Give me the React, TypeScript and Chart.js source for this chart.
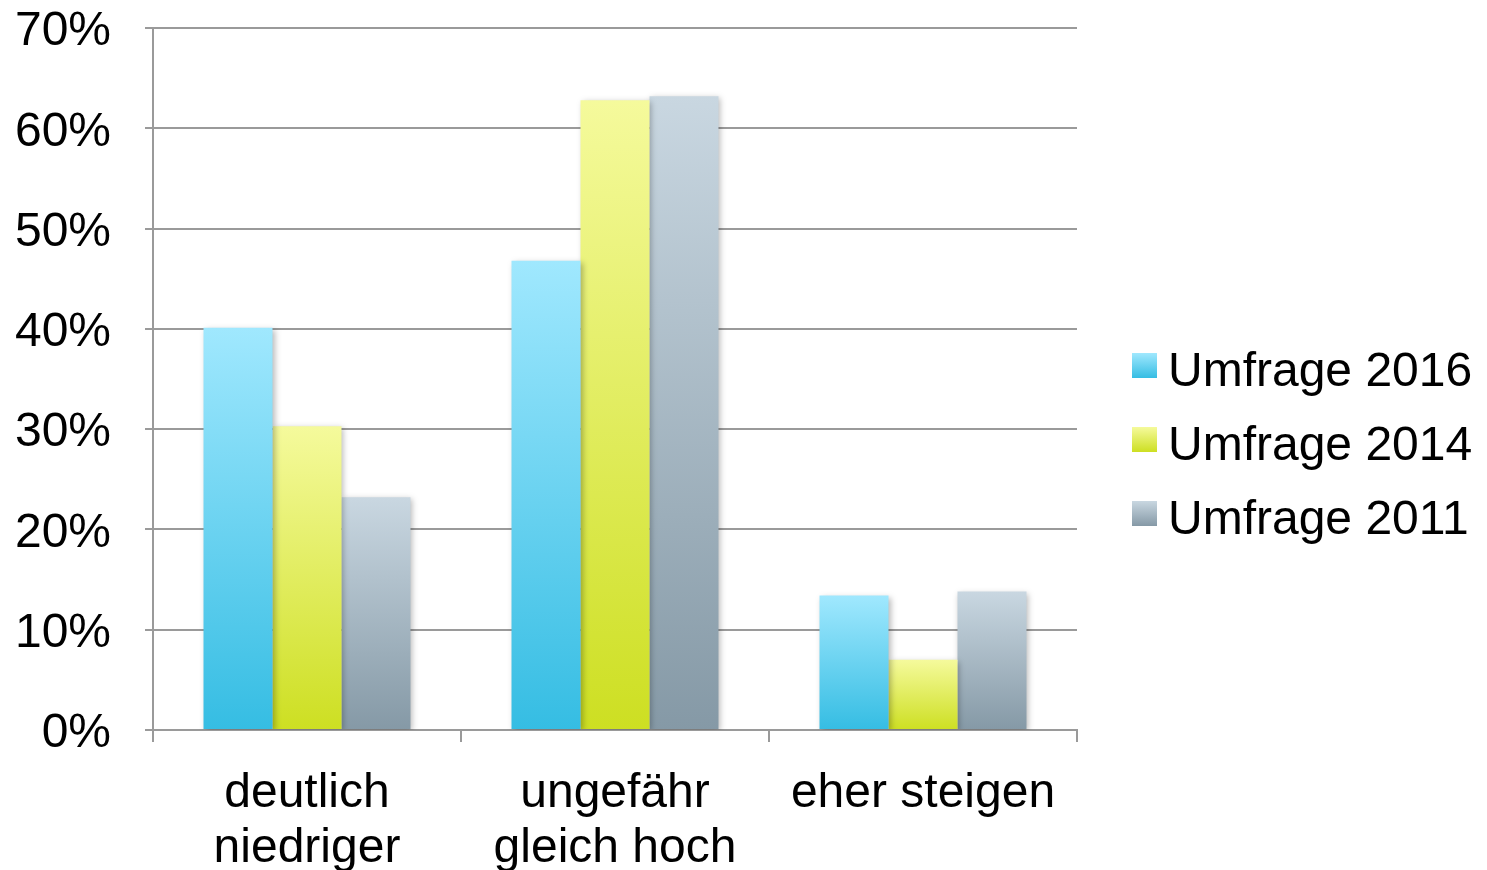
import React, { useEffect, useRef } from 'react';
import { Chart, registerables } from 'chart.js';

Chart.register(...registerables);

const categories: string[][] = [['deutlich', 'niedriger'], ['ungefähr', 'gleich hoch'], ['eher steigen']];
const seriesLabels = ['Umfrage 2016', 'Umfrage 2014', 'Umfrage 2011'];
const values2016 = [40.1, 46.8, 13.4];
const values2014 = [30.3, 62.8, 7.0];
const values2011 = [23.2, 63.2, 13.8];
const seriesValues = [values2016, values2014, values2011];
const yMax = 70;
const yStep = 10;

const gradTop = ['#a0e8fe', '#f5fa9c', '#c9d7e1'];
const gradBottom = ['#35bde3', '#cddf22', '#8599a6'];

const FONT = '"Liberation Sans", Arial, sans-serif';
const GRID = '#9a9a9a';

const shadowPlugin = {
  id: 'barShadow',
  beforeDatasetsDraw(chart: any) {
    const c = chart.ctx;
    c.save();
    c.shadowColor = 'rgba(0,0,0,0.28)';
    c.shadowBlur = 6;
    c.shadowOffsetX = 2;
    c.shadowOffsetY = 2;
  },
  afterDatasetsDraw(chart: any) {
    chart.ctx.restore();
  },
};

const legendPlugin = {
  id: 'customLegend',
  afterDraw(chart: any) {
    const c = chart.ctx;
    const area = chart.chartArea;
    const boxX = area.right + 55;
    const box = 25;
    c.save();
    seriesLabels.forEach((label, i) => {
      const baseline = 386 + 74 * i;
      const boxTop = baseline - 33;
      const g = c.createLinearGradient(0, boxTop, 0, boxTop + box);
      g.addColorStop(0, gradTop[i]);
      g.addColorStop(1, gradBottom[i]);
      c.fillStyle = g;
      c.fillRect(boxX, boxTop, box, box);
      c.fillStyle = '#000';
      c.font = `48px ${FONT}`;
      c.textAlign = 'left';
      c.textBaseline = 'alphabetic';
      c.fillText(label, boxX + 36, baseline);
    });
    c.restore();
  },
};

export default function App() {
  const ref = useRef<HTMLCanvasElement>(null);

  useEffect(() => {
    if (!ref.current) return;
    const chart = new Chart(ref.current, {
      type: 'bar',
      data: {
        labels: categories,
        datasets: seriesLabels.map((label, i) => ({
          label,
          data: seriesValues[i],
          backgroundColor: (ctx: any) => {
            const ch = ctx.chart;
            const y = ch.scales && ch.scales.y;
            if (!y || ctx.type !== 'data' || !ch.chartArea) return gradBottom[i];
            const top = y.getPixelForValue(ctx.raw);
            const base = y.getPixelForValue(0);
            if (!isFinite(top) || !isFinite(base) || top === base) return gradBottom[i];
            const g = ch.ctx.createLinearGradient(0, top, 0, base);
            g.addColorStop(0, gradTop[i]);
            g.addColorStop(1, gradBottom[i]);
            return g;
          },
          borderWidth: 0,
          categoryPercentage: 0.672,
          barPercentage: 1.0,
        })),
      },
      options: {
        animation: false,
        responsive: true,
        maintainAspectRatio: false,
        layout: { padding: { left: 0, top: 0, right: 410, bottom: 0 } },
        plugins: {
          legend: { display: false },
          tooltip: { enabled: false },
          title: { display: false },
        },
        scales: {
          x: {
            grid: {
              display: true,
              drawOnChartArea: false,
              drawTicks: true,
              tickLength: 12,
              color: GRID,
              lineWidth: 2,
              offset: true,
            },
            border: { display: true, color: GRID, width: 2 },
            ticks: {
              color: '#000',
              font: { family: FONT, size: 48, lineHeight: 1.13 },
              padding: 25,
              maxRotation: 0,
              autoSkip: false,
            },
            afterFit: (axis: any) => {
              axis.height = 140;
            },
          },
          y: {
            min: 0,
            max: yMax,
            grid: {
              color: GRID,
              lineWidth: 2,
              drawTicks: true,
              tickLength: 8,
            },
            border: { display: true, color: GRID, width: 2 },
            ticks: {
              stepSize: yStep,
              color: '#000',
              font: { family: FONT, size: 48, lineHeight: 1.1 },
              padding: 34,
              labelOffset: 4,
              callback: (v: any) => `${v}%`,
            },
            afterFit: (axis: any) => {
              axis.width = 153;
              axis.paddingTop = 28;
              axis.paddingBottom = 0;
            },
          },
        },
      },
      plugins: [shadowPlugin, legendPlugin],
    });
    return () => chart.destroy();
  }, []);

  return (
    <div style={{ position: 'absolute', left: 0, top: 0, width: 1487, height: 870, background: '#fff' }}>
      <canvas ref={ref} />
    </div>
  );
}
